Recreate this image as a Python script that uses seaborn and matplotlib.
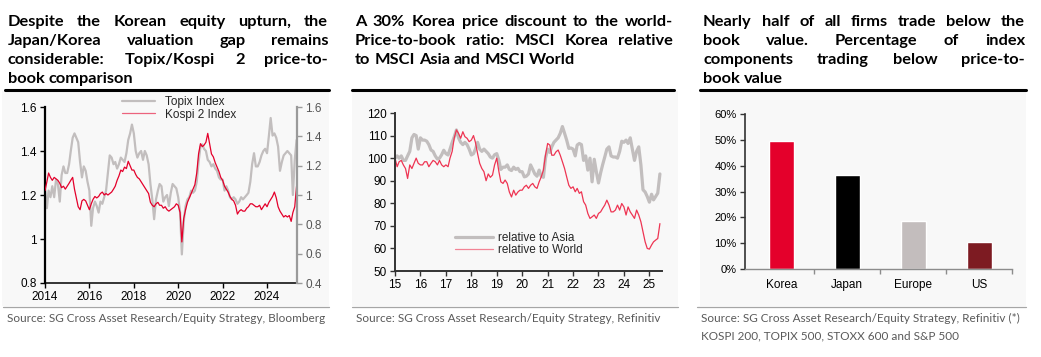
import numpy as np
import pandas as pd
import matplotlib
matplotlib.use("Agg")
import matplotlib.pyplot as plt
import matplotlib.dates as mdates
from matplotlib.lines import Line2D
from matplotlib.patches import Rectangle
import seaborn as sns

# ---------------- data ----------------
# Panel 1: price-to-book, monthly from Jan 2014 (Topix on left axis, Kospi 200 on right axis)
topix_pb = [
    1.22, 1.14, 1.22, 1.19, 1.24, 1.19, 1.27, 1.25, 1.17, 1.29, 1.33, 1.30,   # 2014
    1.30, 1.34, 1.40, 1.46, 1.48, 1.46, 1.44, 1.35, 1.28, 1.33, 1.31, 1.26,   # 2015
    1.22, 1.06, 1.14, 1.17, 1.15, 1.12, 1.17, 1.16, 1.19, 1.22, 1.30, 1.38,   # 2016
    1.37, 1.34, 1.35, 1.32, 1.34, 1.37, 1.36, 1.35, 1.39, 1.45, 1.48, 1.52,   # 2017
    1.48, 1.40, 1.37, 1.39, 1.40, 1.36, 1.40, 1.38, 1.34, 1.25, 1.18, 1.09,   # 2018
    1.18, 1.22, 1.25, 1.24, 1.17, 1.19, 1.20, 1.15, 1.21, 1.25, 1.24, 1.23,   # 2019
    1.19, 1.12, 0.93, 1.08, 1.15, 1.18, 1.19, 1.22, 1.21, 1.22, 1.26, 1.35,   # 2020
    1.42, 1.43, 1.41, 1.40, 1.36, 1.35, 1.33, 1.34, 1.32, 1.31, 1.28, 1.27,   # 2021
    1.27, 1.22, 1.24, 1.22, 1.19, 1.18, 1.19, 1.18, 1.16, 1.17, 1.19, 1.18,   # 2022
    1.19, 1.20, 1.21, 1.26, 1.34, 1.39, 1.33, 1.33, 1.35, 1.38, 1.40, 1.41,   # 2023
    1.39, 1.47, 1.55, 1.47, 1.48, 1.46, 1.42, 1.31, 1.35, 1.38, 1.39, 1.40,   # 2024
    1.39, 1.38, 1.20, 1.36, 1.45,                                             # 2025
]
kospi_pb = [
    1.03, 1.09, 1.15, 1.12, 1.10, 1.12, 1.11, 1.10, 1.08, 1.05, 1.06, 1.04,   # 2014
    1.06, 1.08, 1.10, 1.12, 1.04, 0.98, 0.92, 0.90, 0.96, 0.97, 0.96, 0.93,   # 2015
    0.90, 0.94, 0.97, 0.99, 0.98, 0.99, 1.01, 1.02, 1.00, 1.01, 1.00, 1.01,   # 2016
    1.02, 1.04, 1.06, 1.10, 1.13, 1.17, 1.16, 1.19, 1.18, 1.23, 1.20, 1.17,   # 2017
    1.17, 1.14, 1.12, 1.11, 1.09, 1.07, 1.05, 1.03, 1.01, 0.95, 0.93, 0.92,   # 2018
    0.94, 0.95, 0.93, 0.93, 0.91, 0.92, 0.90, 0.89, 0.90, 0.91, 0.92, 0.94,   # 2019
    0.93, 0.88, 0.68, 0.84, 0.90, 0.95, 0.98, 1.01, 1.04, 1.07, 1.15, 1.28,   # 2020
    1.35, 1.33, 1.34, 1.36, 1.42, 1.35, 1.28, 1.26, 1.22, 1.19, 1.16, 1.12,   # 2021
    1.10, 1.06, 1.04, 1.02, 0.99, 0.97, 0.96, 0.93, 0.87, 0.89, 0.90, 0.89,   # 2022
    0.89, 0.91, 0.92, 0.94, 0.94, 0.93, 0.92, 0.92, 0.93, 0.90, 0.92, 0.94,   # 2023
    0.92, 0.95, 0.97, 0.99, 1.02, 0.98, 0.92, 0.89, 0.87, 0.85, 0.86, 0.85,   # 2024
    0.86, 0.82, 0.88, 0.92, 1.06,                                             # 2025
]
p1_labels = ["Topix Index", "Kospi 2 Index"]

# Panel 2: MSCI Korea P/B relative to MSCI Asia / MSCI World, monthly from Jan 2015
rel_asia = [
    100, 101, 100, 101, 99, 99, 101, 103, 109, 110.5, 110, 104,               # 2015
    109, 108, 108, 107.5, 106, 103.6, 103, 101, 99.6, 100, 101.5, 103.5,      # 2016
    102, 101.4, 104, 107, 109.5, 112.5, 109, 107, 106, 107, 106, 104,         # 2017
    101.4, 102, 104, 107, 104, 103, 104, 103, 102, 100.5, 100, 101.5,         # 2018
    102, 99, 95, 96, 96, 97, 95, 94.5, 96, 95, 95.5, 94,                      # 2019
    94, 91.7, 92, 93, 97, 95, 93, 92, 94.7, 92, 91.5, 100,                    # 2020
    104, 102.5, 105, 107, 108, 109, 111, 114, 111, 108, 104.3, 104.5,         # 2021
    104, 101, 105.8, 106.5, 106, 99, 101, 94.7, 100, 89.5, 99.5, 94,          # 2022
    89, 93.5, 97, 100.5, 104, 105, 101, 100.5, 100.5, 100, 103, 107.5,        # 2023
    107, 108, 106.5, 109, 104, 99, 103, 105, 97, 86, 85, 83,                  # 2024
    80.5, 84, 81.5, 83, 84.5, 93,                                             # 2025
]
rel_world = [
    100, 96.2, 98.4, 99, 97, 95.4, 91, 97, 95.4, 97.7, 100, 97.7,             # 2015
    97, 97, 98.4, 98.4, 96.2, 97.7, 99, 98.4, 97, 99, 97, 96.2,               # 2016
    97, 96.2, 100, 103, 109, 112.5, 111, 108.8, 111.7, 109.5, 108.8, 107.3,   # 2017
    108, 110, 107, 102, 97.7, 95.4, 94, 90, 93, 91.5, 92.5, 97,               # 2018
    100, 94, 89.5, 88.8, 90.3, 88.8, 85, 82.8, 85.8, 83.6, 85, 85.8,          # 2019
    85.8, 87.3, 88, 86.6, 88, 88.8, 87.3, 86.6, 89.5, 91.7, 94.7, 101.3,      # 2020
    106.5, 105.8, 101.3, 101.3, 102.8, 103.6, 101.3, 98.4, 95.4, 91.7, 88, 86.6,  # 2021
    87.3, 85.1, 86.6, 84.4, 85.1, 80.7, 79.2, 75.5, 73.3, 74, 74.8, 73.3,     # 2022
    75.5, 76.2, 77.7, 79.2, 81.4, 79.2, 76.2, 76.2, 77, 79.2, 77, 79.9,       # 2023
    78.4, 74.8, 78.4, 76.2, 74.8, 73.3, 77, 74.8, 71.8, 67.4, 62.9, 60,       # 2024
    59.7, 61.5, 62.9, 63.7, 64.4, 71,                                         # 2025
]
p2_labels = ["relative to Asia", "relative to World"]

# Panel 3: share of index components trading below book value (%)
regions = ["Korea", "Japan", "Europe", "US"]
below_book = [49.5, 36.4, 18.6, 10.4]

# ---------------- style ----------------
W, H = 1041, 357
RED = "#e4002b"
RED2 = "#ee3553"
GREY = "#c2bebe"
BAR_COLORS = ["#e4002b", "#000000", "#c3bdbd", "#7d1b22"]
SRC_COLOR = "#5a5a5a"
TITLE_SIZE = 11.8

sns.set_style("ticks")
plt.rcParams["font.family"] = ["Liberation Sans", "DejaVu Sans"]
plt.rcParams["axes.linewidth"] = 1.1


def fx(px):
    return px / W


def fy(py):
    return 1 - py / H


def add_title(fig, lines, x0, x1, baselines, size=TITLE_SIZE):
    """Bold title, justified to the width of the black rule (last line left aligned)."""
    renderer = fig.canvas.get_renderer()
    space = fig.text(0, 0, "a a", fontsize=size, fontweight="bold", family="Lato")
    nospace = fig.text(0, 0, "aa", fontsize=size, fontweight="bold", family="Lato")
    space_w = space.get_window_extent(renderer).width - nospace.get_window_extent(renderer).width
    space.remove()
    nospace.remove()
    for i, (line, yb) in enumerate(zip(lines, baselines)):
        words = line.split(" ")
        arts = [fig.text(0, fy(yb), w, fontsize=size, fontweight="bold", family="Lato",
                         va="baseline", ha="left", color="black") for w in words]
        widths = [a.get_window_extent(renderer).width for a in arts]
        if i < len(lines) - 1 and len(words) > 1:
            gap = (x1 - x0 - sum(widths)) / (len(words) - 1)
        else:
            gap = space_w
        x = x0
        for a, w in zip(arts, widths):
            a.set_x(fx(x))
            x += w + gap
    fig.add_artist(Line2D([fx(x0 - 3), fx(x1 + 1)], [fy(89.5), fy(89.5)],
                          color="black", lw=2.2, transform=fig.transFigure))


def add_source(fig, x0, x1, lines):
    fig.add_artist(Line2D([fx(x0 - 3), fx(x1 + 1)], [fy(307), fy(307)],
                          color="#a6a6a6", lw=0.9, transform=fig.transFigure))
    for k, txt in enumerate(lines):
        fig.text(fx(x0 + 1), fy(318 + 18 * k), txt, fontsize=8.5, color=SRC_COLOR,
                 family="Lato", va="center", ha="left")


def panel_bg(fig, x0, x1):
    fig.add_artist(Rectangle((fx(x0 - 3), fy(306)), fx(x1 + 1) - fx(x0 - 3), fy(91) - fy(306),
                             transform=fig.transFigure, color="#f8f8f8", zorder=-10, lw=0))


fig = plt.figure(figsize=(W / 100, H / 100), dpi=100)
fig.patch.set_facecolor("white")

for x0, x1 in [(5, 328), (355, 677), (703, 1025)]:
    panel_bg(fig, x0, x1)

# ---------------- panel 1 ----------------
dates1 = pd.date_range("2014-01-01", periods=len(topix_pb), freq="MS")
df1 = pd.DataFrame({"date": dates1, p1_labels[0]: topix_pb, p1_labels[1]: kospi_pb})

ax1 = fig.add_axes([fx(45), fy(283), fx(297) - fx(45), fy(107) - fy(283)])
sns.lineplot(data=df1, x="date", y=p1_labels[0], ax=ax1, color=GREY, lw=1.6)
ax1r = ax1.twinx()
sns.lineplot(data=df1, x="date", y=p1_labels[1], ax=ax1r, color=RED, lw=0.9)

ax1.set_xlim(pd.Timestamp("2014-01-01"), pd.Timestamp("2025-05-08"))
ax1.set_ylim(0.8, 1.6)
ax1r.set_ylim(0.4, 1.6)
ax1.set_yticks([0.8, 1.0, 1.2, 1.4, 1.6])
ax1.set_yticklabels(["0.8", "1", "1.2", "1.4", "1.6"])
ax1r.set_yticks([0.4, 0.6, 0.8, 1.0, 1.2, 1.4, 1.6])
ax1r.set_yticklabels(["0.4", "0.6", "0.8", "1", "1.2", "1.4", "1.6"])
ax1.xaxis.set_major_locator(mdates.YearLocator(2))
ax1.xaxis.set_major_formatter(mdates.DateFormatter("%Y"))
for a in (ax1, ax1r):
    a.set_xlabel("")
    a.set_ylabel("")
    a.patch.set_visible(False)
ax1.spines[["top", "right"]].set_visible(False)
ax1r.spines[["top", "left", "bottom"]].set_visible(False)
ax1.spines["left"].set_color("black")
ax1.spines["bottom"].set_color("black")
ax1r.spines["right"].set_color("#9a9a9a")
ax1r.spines["right"].set_linewidth(1.6)
ax1.spines["left"].set_linewidth(1.6)
ax1.tick_params(axis="both", labelsize=8.5, length=3.5, width=1, pad=2.5, colors="black")
ax1r.tick_params(axis="y", labelsize=8.5, length=3.5, width=1, pad=2.5, colors="#9a9a9a",
                 labelcolor="#555555")

fig.legend(handles=[Line2D([], [], color=GREY, lw=1.6),
                    Line2D([], [], color=RED, lw=0.9, alpha=0.6)],
           labels=p1_labels, loc="upper left", bbox_to_anchor=(fx(122), fy(96)),
           bbox_transform=fig.transFigure, frameon=False, fontsize=8.5,
           handlelength=2.8, handletextpad=0.85, borderpad=0, borderaxespad=0,
           labelspacing=0.05)

# ---------------- panel 2 ----------------
dates2 = pd.date_range("2015-01-01", periods=len(rel_asia), freq="MS")
df2 = pd.DataFrame({"date": dates2, p2_labels[0]: rel_asia, p2_labels[1]: rel_world})

ax2 = fig.add_axes([fx(395), fy(271), fx(662) - fx(395), fy(113) - fy(271)])
sns.lineplot(data=df2, x="date", y=p2_labels[0], ax=ax2, color=GREY, lw=2.3)
sns.lineplot(data=df2, x="date", y=p2_labels[1], ax=ax2, color=RED2, lw=0.9)
ax2.set_xlim(pd.Timestamp("2015-01-01"), pd.Timestamp("2025-07-01"))
ax2.set_ylim(50, 120)
ax2.set_yticks(range(50, 121, 10))
ax2.xaxis.set_major_locator(mdates.YearLocator(1))
ax2.xaxis.set_major_formatter(mdates.DateFormatter("%y"))
ax2.set_xlabel("")
ax2.set_ylabel("")
ax2.patch.set_visible(False)
ax2.spines[["top", "right"]].set_visible(False)
ax2.spines[["left", "bottom"]].set_color("#333333")
ax2.spines[["left", "bottom"]].set_linewidth(1.4)
ax2.tick_params(axis="both", labelsize=8.5, length=3.5, width=1, pad=2.5,
                colors="#333333", labelcolor="black")
ax2.legend(handles=[Line2D([], [], color=GREY, lw=2.3),
                    Line2D([], [], color=RED2, lw=0.9, alpha=0.6)],
           labels=p2_labels, loc="upper left", bbox_to_anchor=(fx(455), fy(232)),
           bbox_transform=fig.transFigure, frameon=False, fontsize=8.5,
           handlelength=3.2, handletextpad=0.45, borderpad=0, borderaxespad=0,
           labelspacing=0.0)

# ---------------- panel 3 ----------------
df3 = pd.DataFrame({"region": regions, "share": below_book})
ax3 = fig.add_axes([fx(745), fy(269), fx(1012) - fx(745), fy(114) - fy(269)])
sns.barplot(data=df3, x="region", y="share", hue="region", palette=BAR_COLORS,
            saturation=1, width=0.38, legend=False, ax=ax3)
ax3.set_xlim(-0.55, 3.5)
ax3.set_ylim(0, 60)
ax3.set_yticks(range(0, 61, 10))
ax3.set_yticklabels([f"{v}%" for v in range(0, 61, 10)])
ax3.set_xticks([0.5, 1.5, 2.5, 3.5], minor=True)
ax3.set_xlabel("")
ax3.set_ylabel("")
ax3.patch.set_visible(False)
ax3.spines[["top", "right"]].set_visible(False)
ax3.spines["left"].set_color("#333333")
ax3.spines["bottom"].set_color("#8c8c8c")
ax3.spines["left"].set_linewidth(1.2)
ax3.spines["bottom"].set_linewidth(1.0)
ax3.tick_params(axis="y", labelsize=8, length=3.5, width=1, pad=2.5, colors="#333333",
                labelcolor="black")
ax3.tick_params(axis="x", which="major", labelsize=8.5, length=0, pad=7, labelcolor="black")
ax3.tick_params(axis="x", which="minor", length=3.5, width=1, colors="#8c8c8c")

# ---------------- titles and sources ----------------
add_title(fig, ["Despite the Korean equity upturn, the",
                "Japan/Korea valuation gap remains",
                "considerable: Topix/Kospi 2 price-to-",
                "book comparison"], 8, 328, [26, 45, 64, 83])
add_title(fig, ["A 30% Korea price discount to the world-",
                "Price-to-book ratio: MSCI Korea relative",
                "to MSCI Asia and MSCI World"], 355, 673, [26, 45, 64])
add_title(fig, ["Nearly half of all firms trade below the",
                "book value. Percentage of index",
                "components trading below price-to-",
                "book value"], 703, 1025, [26, 45, 64, 83])

add_source(fig, 6, 328, ["Source: SG Cross Asset Research/Equity Strategy, Bloomberg"])
add_source(fig, 355, 677, ["Source: SG Cross Asset Research/Equity Strategy, Refinitiv"])
add_source(fig, 700, 1025, ["Source: SG Cross Asset Research/Equity Strategy, Refinitiv (*)",
                            "KOSPI 200, TOPIX 500, STOXX 600 and S&P 500"])

fig.savefig("out.png", dpi=100, facecolor="white")
